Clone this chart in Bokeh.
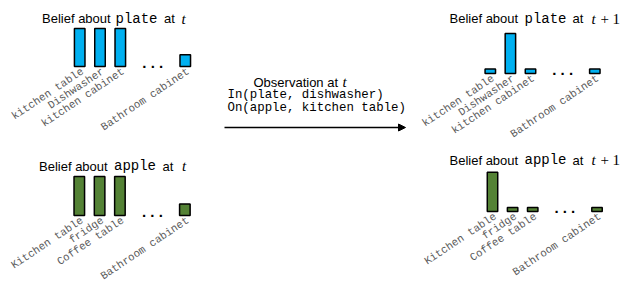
from bokeh.plotting import figure
from bokeh.models import Range1d, ColumnDataSource, Label, LabelSet, Arrow, NormalHead
from bokeh.layouts import row, column
from bokeh.embed import file_html
from bokeh.resources import INLINE
from bokeh.core.properties import value

# ---------------- data ----------------
PLATE_LOCATIONS = ["kitchen table", "Dishwasher", "kitchen cabinet", "Bathroom cabinet"]
APPLE_LOCATIONS = ["Kitchen table", "fridge", "Coffee table", "Bathroom cabinet"]
PLATE_BELIEF_T = [0.29, 0.29, 0.29, 0.09]
PLATE_BELIEF_T1 = [0.035, 0.305, 0.035, 0.035]
APPLE_BELIEF_T = [0.297, 0.297, 0.297, 0.087]
APPLE_BELIEF_T1 = [0.30, 0.03, 0.03, 0.03]
OBSERVATION_TITLE = "Observation at"
OBSERVATION = ["In(plate, dishwasher)", "On(apple, kitchen table)"]
ELLIPSIS = ". . ."

# ---------------- style / layout ----------------
BLUE = "#00B0F0"
GREEN = "#548235"
SANS = "Liberation Sans"
MONO = "Liberation Mono"
SERIF = "Liberation Serif"
YSCALE = 131.25      # px per belief unit
GAP = 1.6            # slot distance around the "..." gap
N_SHOWN = 3          # categories before the ellipsis
LABEL_ANGLE = 0.59


def slot_positions(n):
    # first categories side by side, the last one after the ellipsis gap
    return [float(i) if i < N_SHOWN else (N_SHOWN - 1) + 2 * GAP for i in range(n)]


def panel(locs, vals, color, cx, cy, baseline, c0, s, obj, base, tx, plus_one):
    cl, cr = cx
    ct, cb = cy
    xpos = slot_positions(len(locs))
    p = figure(width=cr - cl, height=cb - ct,
               x_range=Range1d((cl - c0) / s, (cr - c0) / s),
               y_range=Range1d(-(cb - baseline) / YSCALE, (baseline - ct) / YSCALE),
               output_backend="svg", toolbar_location=None, min_border=0,
               x_axis_location=None, y_axis_location=None, outline_line_color=None)
    p.grid.visible = False
    src = ColumnDataSource(dict(x=xpos, top=vals, base=[0.0] * len(xpos), name=locs))
    p.vbar(x="x", top="top", bottom="base", width=0.52, source=src, fill_color=color,
           line_color="black", line_width=1.5)
    p.add_layout(LabelSet(x="x", y="base", text="name", source=src, angle=LABEL_ANGLE,
                          text_align="right", text_baseline="middle",
                          x_offset=3, y_offset=-4, text_font=value(MONO),
                          text_font_size=value("10.8px"), text_color=value("#5a5a5a")))
    p.add_layout(Label(x=(N_SHOWN - 1) + GAP, y=0, text=ELLIPSIS, text_align="center",
                       text_baseline="bottom", y_offset=-4.5, text_font=SANS,
                       text_font_style="bold", text_font_size="15px", text_color="black"))

    pieces = [("Belief about", tx[0], SANS, "13px", "normal"),
              (obj, tx[1], MONO, "14px", "normal"),
              ("at", tx[2], SANS, "13px", "normal"),
              ("t", tx[3], SERIF, "15px", "italic")]
    if plus_one:
        pieces += [("+", tx[4], SERIF, "15px", "normal"),
                   ("1", tx[5], SERIF, "15px", "normal")]
    for text, px, font, size, style in pieces:
        p.add_layout(Label(x=px - cl, y=cb - base, x_units="screen", y_units="screen",
                           text=text, text_font=font, text_font_size=size,
                           text_font_style=style, text_baseline="alphabetic",
                           text_align="left", text_color="black"))
    return p


tl = panel(PLATE_LOCATIONS, PLATE_BELIEF_T, BLUE, (1, 202), (1, 146), 67, 80.2, 20.3,
           "plate", 19, (42.5, 116, 164.5, 182), False)
bl = panel(APPLE_LOCATIONS, APPLE_BELIEF_T, GREEN, (1, 202), (146, 288), 216, 79.8, 20.3,
           "apple", 166.5, (39.5, 114.5, 163, 182.5), False)
tr = panel(PLATE_LOCATIONS, PLATE_BELIEF_T1, BLUE, (418, 622), (1, 148), 74, 490.8, 20.1,
           "plate", 19.3, (450, 525, 573, 592, 601, 613), True)
br = panel(APPLE_LOCATIONS, APPLE_BELIEF_T1, GREEN, (418, 622), (148, 288), 212, 493, 20.1,
           "apple", 160.5, (450, 525, 573, 592, 601, 613), True)

mid = figure(width=216, height=287, x_range=Range1d(202, 418), y_range=Range1d(288, 1),
             output_backend="svg", toolbar_location=None, min_border=0,
             x_axis_location=None, y_axis_location=None, outline_line_color=None)
mid.grid.visible = False
mid.add_layout(Label(x=254, y=82.5, text=OBSERVATION_TITLE, text_font=SANS,
                     text_font_size="13px", text_baseline="alphabetic", text_color="black"))
mid.add_layout(Label(x=343, y=82.5, text="t", text_font=SERIF, text_font_style="italic",
                     text_font_size="15px", text_baseline="alphabetic", text_color="black"))
for line, yy in zip(OBSERVATION, (95, 108.5)):
    mid.add_layout(Label(x=228, y=yy, text=line, text_font=MONO, text_font_size="12.4px",
                         text_baseline="middle", text_color="black"))
mid.add_layout(Arrow(end=NormalHead(size=7, fill_color="black", line_color="black", line_width=1),
                     x_start=225, y_start=128, x_end=406, y_end=128,
                     line_width=1.3, line_color="black"))

layout = row(column(tl, bl), mid, column(tr, br))
open("out.html", "w").write(file_html(layout, INLINE))
